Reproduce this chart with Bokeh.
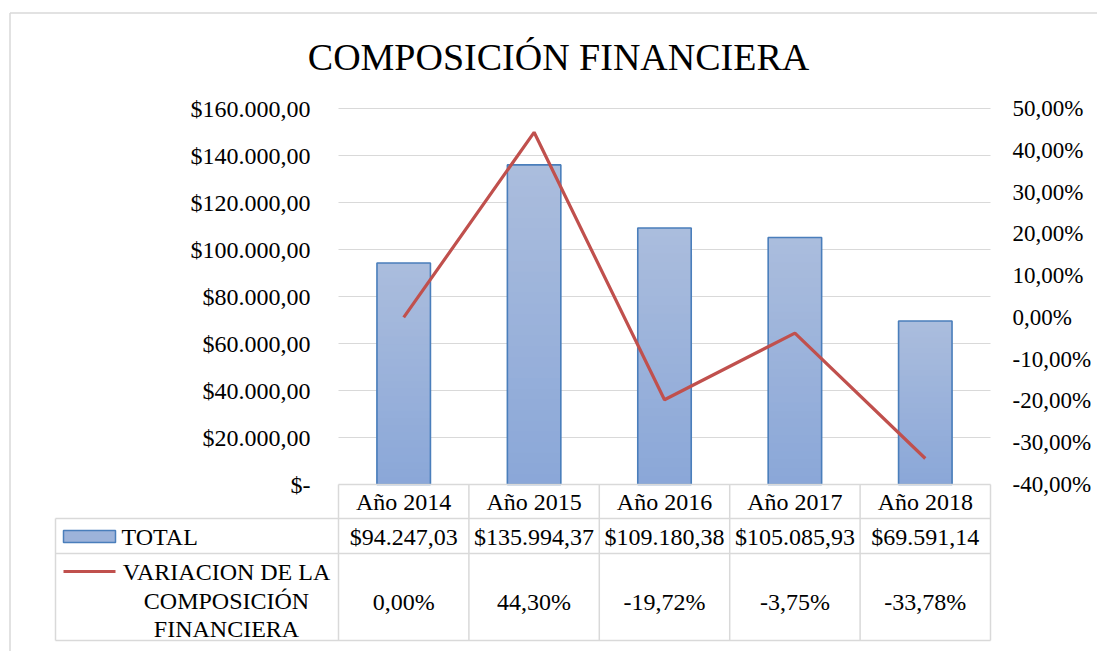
import textwrap
from bokeh.plotting import figure
from bokeh.models import Range1d, LinearAxis, FixedTicker
from bokeh.core.properties import value
from bokeh.embed import file_html
from bokeh.resources import INLINE

# ---------------- data ----------------
title_text = "COMPOSICIÓN FINANCIERA"
categories = ["Año 2014", "Año 2015", "Año 2016", "Año 2017", "Año 2018"]
totals = [94247.03, 135994.37, 109180.38, 105085.93, 69591.14]
variation = [0.00, 44.30, -19.72, -3.75, -33.78]
series_names = ["TOTAL", "VARIACION DE LA COMPOSICIÓN FINANCIERA"]
left_ticks = [0, 20000, 40000, 60000, 80000, 100000, 120000, 140000, 160000]
right_ticks = [-40, -30, -20, -10, 0, 10, 20, 30, 40, 50]


def money(v):
    if v == 0:
        return "$-"
    s = f"{v:,.2f}".replace(",", "X").replace(".", ",").replace("X", ".")
    return "$" + s


def pct(v):
    return f"{v:.2f}".replace(".", ",") + "%"


# ---------------- layout (page pixels) ----------------
W, H = 1097, 651
PAGE_L, PAGE_T = 0, 0
PLOT_L, PLOT_R, PLOT_T, ZERO_Y = 338, 990, 108, 484
ROW_Y = [484, 518, 553, 640]
LEG_L = 55
BOTTOM = PAGE_T + H
RIGHT = PAGE_L + W
n = len(categories)
col_w = (PLOT_R - PLOT_L) / n
k_money = (ZERO_Y - PLOT_T) / left_ticks[-1]
k_pct = (ZERO_Y - PLOT_T) / (right_ticks[-1] - right_ticks[0])

FONT = value("Liberation Serif")
FS = value("24px")
GRID = "#d9d9d9"

p = figure(
    width=W, height=H, output_backend="svg", toolbar_location=None,
    x_range=Range1d((PAGE_L - PLOT_L) / col_w, (RIGHT - PLOT_L) / col_w),
    y_range=Range1d(-(BOTTOM - ZERO_Y) / k_money, (ZERO_Y - PAGE_T) / k_money),
    min_border_left=0, min_border_top=0, min_border_bottom=0,
    min_border_right=0,
    x_axis_location=None, y_axis_location="left",
)
p.extra_x_ranges = {"px": Range1d(PAGE_L, RIGHT)}
p.extra_y_ranges = {
    "px": Range1d(BOTTOM, PAGE_T),
    "pct": Range1d(right_ticks[0] - (BOTTOM - ZERO_Y) / k_pct,
                   right_ticks[-1] + (PLOT_T - PAGE_T) / k_pct),
}
p.outline_line_color = None
p.grid.visible = False
p.background_fill_color = "white"
p.border_fill_color = "white"

# left axis (labels pushed into the frame area)
ya = p.yaxis[0]
ya.ticker = FixedTicker(ticks=left_ticks)
ya.major_label_overrides = {t: money(t) for t in left_ticks}
ya.axis_line_color = None
ya.major_tick_line_color = None
ya.minor_tick_line_color = None
ya.major_tick_out = 0
ya.major_tick_in = 0
ya.major_label_standoff = -(310 - PAGE_L)
ya.major_label_text_font = "Liberation Serif"
ya.major_label_text_font_size = "24px"
ya.major_label_text_color = "#000000"

# right axis (labels pulled back into the frame area)
ra = LinearAxis(y_range_name="pct", ticker=FixedTicker(ticks=right_ticks))
ra.major_label_overrides = {t: pct(t) for t in right_ticks}
ra.axis_line_color = None
ra.major_tick_line_color = None
ra.minor_tick_line_color = None
ra.major_tick_out = 0
ra.major_tick_in = 0
ra.major_label_standoff = -(RIGHT - 1012)
ra.major_label_text_font = "Liberation Serif"
ra.major_label_text_font_size = "23px"
ra.major_label_text_color = "#000000"
p.add_layout(ra, "right")

# gridlines
gt = [t for t in left_ticks if t > 0]
p.segment(x0=[0] * len(gt), y0=gt, x1=[n] * len(gt), y1=gt,
          line_color=GRID, line_width=1.2)

# bars with vertical gradient (overlapping rects, tallest first -> no seams)
xc = [i + 0.5 for i in range(n)]
bw = 0.41
top_c = (0xAB, 0xBD, 0xDD)
bot_c = (0x8A, 0xA7, 0xD8)
NS = 30
L, R, B, T, C = [], [], [], [], []
for j in reversed(range(NS)):
    f = (j + 0.5) / NS
    col = "#%02x%02x%02x" % tuple(
        int(round(bot_c[c] + (top_c[c] - bot_c[c]) * f)) for c in range(3))
    for x, v in zip(xc, totals):
        L.append(x - bw / 2)
        R.append(x + bw / 2)
        B.append(0)
        T.append(v * (j + 1) / NS)
        C.append(col)
p.quad(left=L, right=R, bottom=B, top=T, fill_color=C, line_color=None)
p.vbar(x=xc, top=totals, bottom=0, width=bw, fill_color=None,
       line_color="#4a7ebb", line_width=1.6)

# line series
p.line(x=xc, y=variation, y_range_name="pct", line_color="#c0504d", line_width=3.2)

# outer chart border
p.segment(x0=[9.5, 9.5], y0=[12.5, 12.5], x1=[9.5, RIGHT], y1=[BOTTOM, 12.5],
          x_range_name="px", y_range_name="px", line_color=GRID, line_width=1.5)

# title
p.text(x=[558], y=[56], text=[title_text], x_range_name="px", y_range_name="px",
       text_align="center", text_baseline="middle", text_font=FONT,
       text_font_size=value("38px"), text_color="#000000")

# data table borders
xL = (LEG_L - PLOT_L) / col_w
hx0 = [0, xL, xL, xL]
p.segment(x0=hx0, y0=ROW_Y, x1=[n] * 4, y1=ROW_Y, y_range_name="px",
          line_color=GRID, line_width=1.5)
vx = [xL] + list(range(n + 1))
vy0 = [ROW_Y[1]] + [ROW_Y[0]] * (n + 1)
p.segment(x0=vx, y0=vy0, x1=vx, y1=[ROW_Y[3]] * len(vx), y_range_name="px",
          line_color=GRID, line_width=1.5)

# table texts
p.text(x=xc, y=[501] * n, text=categories, y_range_name="px",
       text_align="center", text_baseline="middle", text_font=FONT,
       text_font_size=FS, text_color="#000000")
p.text(x=xc, y=[536] * n, text=[money(v) for v in totals], y_range_name="px",
       text_align="center", text_baseline="middle", text_font=FONT,
       text_font_size=FS, text_color="#000000")
p.text(x=xc, y=[601] * n, text=[pct(v) for v in variation], y_range_name="px",
       text_align="center", text_baseline="middle", text_font=FONT,
       text_font_size=FS, text_color="#000000")

# legend keys in table
p.quad(left=[63], right=[115], top=[530], bottom=[542], x_range_name="px",
       y_range_name="px", fill_color="#9db3da", line_color="#4a7ebb", line_width=1.5)
p.text(x=[121], y=[536], text=[series_names[0]], x_range_name="px", y_range_name="px",
       text_align="left", text_baseline="middle", text_font=FONT,
       text_font_size=FS, text_color="#000000")
p.segment(x0=[63], y0=[571], x1=[115], y1=[571], x_range_name="px", y_range_name="px",
          line_color="#c0504d", line_width=3)
leg_lines = textwrap.wrap(series_names[1], 15)
p.text(x=[226] * len(leg_lines), y=[571, 600, 628][:len(leg_lines)], text=leg_lines,
       x_range_name="px", y_range_name="px", text_align="center",
       text_baseline="middle", text_font=FONT, text_font_size=FS,
       text_color="#000000")

open("out.html", "w").write(file_html(p, INLINE))
